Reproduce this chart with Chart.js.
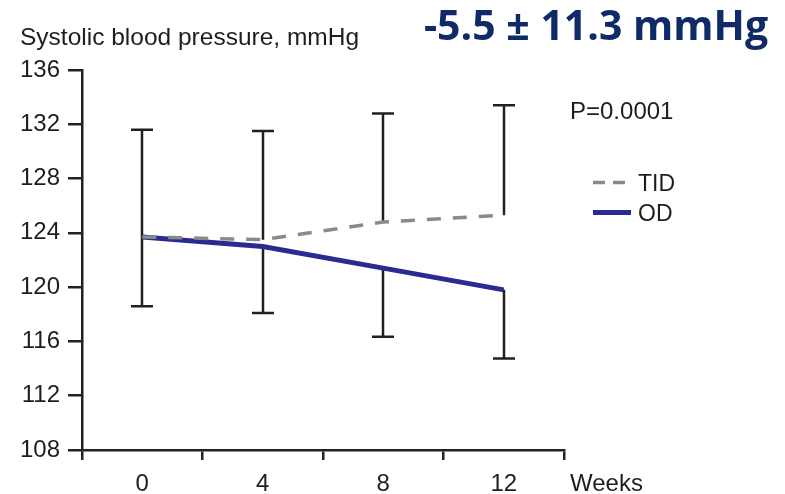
<!DOCTYPE html>
<html>
<head>
<meta charset="utf-8">
<style>
  html, body { margin: 0; padding: 0; background: #ffffff; }
  #wrap { width: 785px; height: 494px; position: relative; }
  canvas { display: block; }
</style>
<script src="https://cdn.jsdelivr.net/npm/chart.js@4/dist/chart.umd.min.js"></script>
</head>
<body>
<div id="wrap"><canvas id="bp" width="785" height="494"></canvas></div>
<script>
// Study visits (weeks)
const weeks = ['0', '4', '8', '12'];

// Mean systolic blood pressure, mmHg
const tidMean = [123.7, 123.5, 124.8, 125.3];
const odMean  = [123.7, 123.0, 121.4, 119.8];

// Whisker ends: TID drawn upward, OD drawn downward
const tidUpper = [131.6, 131.5, 132.8, 133.4];
const odLower  = [118.6, 118.1, 116.35, 114.75];

// Y axis range and step
const yMin = 108;
const yMax = 136;
const yStep = 4;

const headline = '-5.5 \u00b1 11.3 mmHg';
const yTitle = 'Systolic blood pressure, mmHg';
const xTitle = 'Weeks';
const pText = 'P=0.0001';

const INK = '#1e1e1e';
const AXIS_FONT = '"Liberation Sans", Arial, sans-serif';

// Error whiskers: vertical stroke with a horizontal cap, drawn under the lines
const whiskers = {
  id: 'whiskers',
  beforeDatasetsDraw(chart) {
    const { ctx, scales: { x, y } } = chart;
    const cap = 11;
    ctx.save();
    ctx.strokeStyle = '#202020';
    ctx.lineWidth = 2.5;
    ctx.lineCap = 'butt';
    const seg = (px, from, to) => {
      const a = y.getPixelForValue(from), b = y.getPixelForValue(to);
      ctx.beginPath();
      ctx.moveTo(px, a); ctx.lineTo(px, b);
      ctx.moveTo(px - cap, b); ctx.lineTo(px + cap, b);
      ctx.stroke();
    };
    weeks.forEach((w, i) => {
      const px = Math.round(x.getPixelForValue(i));
      seg(px, tidMean[i], tidUpper[i]);
      seg(px, odMean[i], odLower[i]);
    });
    ctx.restore();
  }
};

// Headline, axis captions, p-value and legend
const annotations = {
  id: 'annotations',
  afterDraw(chart) {
    const { ctx } = chart;
    ctx.save();
    ctx.textBaseline = 'alphabetic';

    ctx.fillStyle = '#102a68';
    ctx.font = 'bold 41px "Open Sans", sans-serif';
    ctx.textAlign = 'center';
    ctx.fillText(headline, 596, 40);

    ctx.fillStyle = INK;
    ctx.textAlign = 'left';
    ctx.font = '24.5px ' + AXIS_FONT;
    ctx.fillText(yTitle, 20, 45);

    ctx.font = '24px ' + AXIS_FONT;
    ctx.fillText(xTitle, 570, 491);
    ctx.fillText(pText, 570, 119);

    // legend entries follow the dataset styles
    const rows = [182.5, 212.5];
    chart.data.datasets.forEach((ds, i) => {
      const yy = rows[i];
      ctx.save();
      ctx.strokeStyle = ds.borderColor;
      ctx.lineWidth = ds.borderWidth;
      ctx.setLineDash(ds.borderDash ? [12, 8] : []);
      ctx.beginPath();
      ctx.moveTo(593, yy); ctx.lineTo(631, yy);
      ctx.stroke();
      ctx.restore();
      ctx.fillStyle = INK;
      ctx.font = '23px ' + AXIS_FONT;
      ctx.fillText(ds.label, 638, yy + 8);
    });
    ctx.restore();
  }
};

new Chart(document.getElementById('bp'), {
  type: 'line',
  data: {
    labels: weeks,
    datasets: [
      {
        label: 'TID',
        data: tidMean,
        borderColor: '#8a8a8a',
        borderWidth: 3.5,
        borderDash: [14, 12],
        pointRadius: 0,
        tension: 0,
        fill: false
      },
      {
        label: 'OD',
        data: odMean,
        borderColor: '#2a2b90',
        borderWidth: 5,
        pointRadius: 0,
        tension: 0,
        fill: false
      }
    ]
  },
  options: {
    responsive: false,
    animation: false,
    devicePixelRatio: 1,
    layout: { padding: { top: 70, right: 221, left: 0, bottom: 0 } },
    plugins: {
      legend: { display: false },
      title: { display: false },
      tooltip: { enabled: false }
    },
    scales: {
      x: {
        type: 'category',
        offset: true,
        grid: { offset: true, drawOnChartArea: false, drawTicks: true, tickLength: 10, color: '#222222', lineWidth: 2.5 },
        border: { display: true, color: '#222222', width: 2.5 },
        ticks: { color: INK, font: { family: AXIS_FONT, size: 24 }, padding: 10, maxRotation: 0 },
        afterFit(scale) { scale.height = 44; }
      },
      y: {
        min: yMin,
        max: yMax,
        grid: { drawOnChartArea: false, drawTicks: true, tickLength: 14, color: '#222222', lineWidth: 2.5 },
        border: { display: true, color: '#222222', width: 2.5 },
        ticks: { stepSize: yStep, color: INK, font: { family: AXIS_FONT, size: 24 }, padding: 8 },
        afterFit(scale) { scale.width = 82; }
      }
    }
  },
  plugins: [whiskers, annotations]
});
</script>
</body>
</html>
